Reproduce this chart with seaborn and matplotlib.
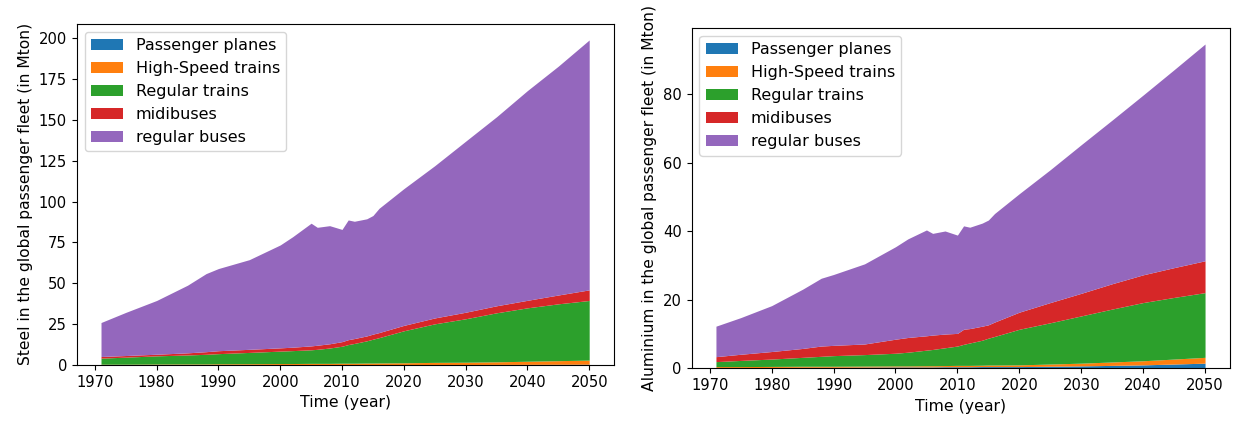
import numpy as np
import seaborn as sns
import matplotlib
matplotlib.use("Agg")
import matplotlib.pyplot as plt

# sample years
years = [1971, 1975, 1980, 1985, 1988, 1990, 1995, 2000, 2002, 2005, 2006, 2008, 2010,
         2011, 2012, 2014, 2015, 2016, 2020, 2025, 2030, 2035, 2040, 2045, 2050]

labels = ['Passenger planes', 'High-Speed trains', 'Regular trains', 'midibuses', 'regular buses']

# Steel (Mton)
steel_planes = [0.1, 0.1, 0.1, 0.15, 0.15, 0.15, 0.2, 0.2, 0.2, 0.2, 0.2, 0.2, 0.2,
                0.2, 0.2, 0.2, 0.2, 0.25, 0.25, 0.3, 0.3, 0.35, 0.4, 0.45, 0.5]
steel_hst = [0.4, 0.4, 0.5, 0.5, 0.5, 0.6, 0.6, 0.7, 0.7, 0.8, 0.8, 0.8, 0.9,
             0.9, 0.9, 1.0, 1.0, 1.0, 1.1, 1.3, 1.4, 1.6, 1.9, 2.2, 2.5]
steel_trains = [3.7, 4.3, 5.0, 5.5, 5.9, 6.2, 6.9, 7.6, 7.9, 8.3, 8.6, 9.4, 10.4,
                11.4, 12.1, 13.6, 14.6, 15.5, 19.6, 23.6, 26.6, 30.0, 32.7, 34.8, 36.5]
steel_midi = [1.0, 1.0, 1.0, 1.3, 1.6, 1.8, 1.9, 2.0, 2.1, 2.4, 2.5, 2.6, 2.8,
              3.0, 3.0, 3.0, 3.1, 3.1, 3.3, 3.6, 4.0, 4.3, 4.6, 5.4, 6.5]
steel_buses = [20.8, 26.4, 32.9, 41.4, 47.8, 50.3, 54.9, 63.0, 67.6, 75.1, 72.2, 72.3, 68.7,
               73.3, 71.8, 71.7, 72.6, 76.1, 83.7, 93.2, 104.7, 115.7, 128.4, 140.1, 153.0]

# Aluminium (Mton)
alu_planes = [0.2, 0.2, 0.25, 0.3, 0.3, 0.3, 0.35, 0.4, 0.4, 0.4, 0.4, 0.45, 0.45,
              0.45, 0.45, 0.5, 0.5, 0.5, 0.5, 0.6, 0.7, 0.85, 1.0, 1.25, 1.5]
alu_hst = [0.3, 0.3, 0.3, 0.3, 0.3, 0.3, 0.3, 0.3, 0.3, 0.35, 0.35, 0.35, 0.4,
           0.4, 0.4, 0.4, 0.45, 0.45, 0.5, 0.65, 0.8, 1.0, 1.2, 1.45, 1.7]
alu_trains = [1.45, 1.8, 2.15, 2.6, 2.9, 3.1, 3.35, 3.7, 4.0, 4.55, 4.75, 5.2, 5.65,
              6.15, 6.55, 7.3, 7.85, 8.35, 10.4, 12.05, 13.8, 15.45, 17.0, 18.0, 18.9]
alu_midi = [1.45, 1.8, 2.2, 2.6, 3.0, 3.0, 3.1, 4.1, 4.3, 4.2, 4.2, 4.0, 3.7,
            4.4, 4.2, 4.1, 3.9, 4.2, 5.0, 5.9, 6.6, 7.4, 8.1, 8.7, 9.3]
alu_buses = [8.9, 10.7, 13.4, 17.3, 19.8, 20.7, 23.4, 27.0, 28.8, 30.9, 29.7, 30.1, 28.7,
             30.2, 29.6, 30.1, 30.6, 31.7, 34.6, 38.8, 43.4, 47.8, 52.5, 57.8, 63.3]

sns.set_style("ticks")
plt.rcParams['font.family'] = ['DejaVu Sans']
plt.rcParams['font.size'] = 11.5
plt.rcParams['axes.edgecolor'] = 'black'
plt.rcParams['xtick.color'] = 'black'
plt.rcParams['ytick.color'] = 'black'
plt.rcParams['text.color'] = 'black'
plt.rcParams['axes.labelcolor'] = 'black'

colors = sns.color_palette("tab10", 5)

fig = plt.figure(figsize=(12.36, 4.21), dpi=100)
ax1 = fig.add_axes([76.6 / 1236, (421 - 365) / 421, 537 / 1236, 341.3 / 421])
ax2 = fig.add_axes([691.5 / 1236, (421 - 368.3) / 421, 538 / 1236, 340.5 / 421])

ax1.stackplot(years, steel_planes, steel_hst, steel_trains, steel_midi, steel_buses,
              labels=labels, colors=colors, linewidth=0)
ax1.set_xlabel("Time (year)", fontsize=11.3)
ax1.set_ylabel("Steel in the global passenger fleet (in Mton)", fontsize=11.2)
ax1.legend(loc="upper left", fontsize=11.5)

ax2.stackplot(years, alu_planes, alu_hst, alu_trains, alu_midi, alu_buses,
              labels=labels, colors=colors, linewidth=0)
ax2.set_xlabel("Time (year)", fontsize=11.3)
ax2.set_ylabel("Aluminium in the global passenger fleet (in Mton)", fontsize=11.2)
ax2.legend(loc="upper left", fontsize=11.5)

for ax in (ax1, ax2):
    ax.tick_params(labelsize=10.6)

fig.savefig("out.png", dpi=100)
